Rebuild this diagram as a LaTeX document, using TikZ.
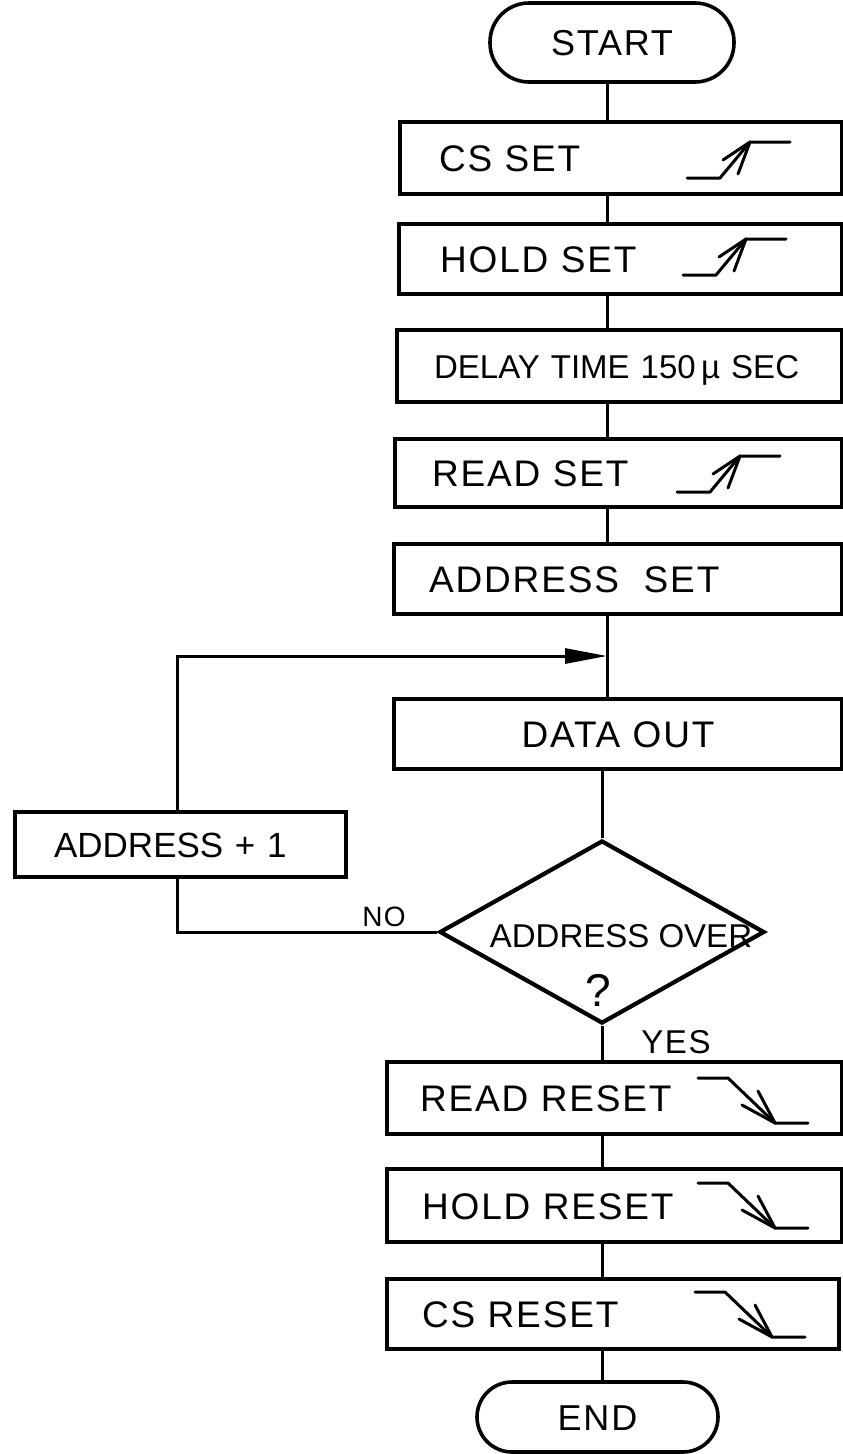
\documentclass[tikz,border=0pt]{standalone}
\usepackage{fontspec}
\setmainfont{Liberation Sans}[LetterSpace=5]
\newfontfamily\plainf{Liberation Sans}
\usetikzlibrary{shapes.geometric,arrows.meta}
\begin{document}
\begin{tikzpicture}[x=1pt,y=-1pt,
  box/.style={draw, line width=4.2pt, anchor=north west, inner ysep=0pt, align=left,
              font=\fontsize{37}{40}\selectfont, text height=27pt, text depth=0pt},
  term/.style={draw, line width=3.6pt, inner sep=0pt, font=\fontsize{36}{40}\selectfont,
              text height=26pt, text depth=0pt},
  conn/.style={line width=3pt},
  sym/.style={line width=3pt, line cap=round, line join=round},
  lbl/.style={inner sep=0pt, text height=20pt, text depth=0pt},
  rise/.pic={\draw[sym] (0,0) -- (33,0) -- (63,-36) -- (103,-36);
             \draw[sym] (63,-36) -- ++(-27,18) (63,-36) -- ++(-12,32);},
  fall/.pic={\draw[sym] (0,0) -- (30,0) -- (77,45) -- (110,45);
             \draw[sym] (77,45) -- ++(-33,-18) (77,45) -- ++(-17,-32);}
]
\useasboundingbox (0,0) rectangle (843,1454);

% terminals
\node[term, minimum width=244pt, minimum height=79pt, rounded corners=39pt] (start) at (612,42.5) {START};
\node[term, minimum width=241pt, minimum height=70pt, rounded corners=35pt] (end) at (597.5,1417) {END};

% process boxes
\node[box, minimum height=72pt, inner xsep=39pt, text width=364pt] (cs) at (398,120) {CS SET};
\node[box, minimum height=70pt, inner xsep=41pt, text width=361pt] (hold) at (397,222) {HOLD SET};
\node[box, minimum height=72pt, inner xsep=37pt, text width=371pt,
      font=\plainf\fontsize{33}{36}\selectfont, text height=24pt] (delay) at (395,328) {DELAY TIME 150\,µ SEC};
\node[box, minimum height=68pt, inner xsep=37pt, text width=373pt] (read) at (393,437) {READ SET};
\node[box, minimum height=70pt, inner xsep=35pt, text width=378pt] (addr) at (392,542) {ADDRESS\ \ SET};
\node[box, minimum height=70pt, inner xsep=10pt, text width=428pt, align=center] (data) at (392,697) {DATA OUT};
\node[box, minimum height=65pt, inner xsep=39pt, text width=253pt,
      font=\plainf\fontsize{35}{38}\selectfont, text height=25pt] (inc) at (13,810) {ADDRESS + 1};
\node[box, minimum height=72pt, inner xsep=33pt, text width=389pt] (rr) at (385,1060) {READ RESET};
\node[box, minimum height=73pt, inner xsep=35pt, text width=385pt] (hr) at (385,1167) {HOLD RESET};
\node[box, minimum height=70pt, inner xsep=35pt, text width=382pt] (csr) at (385,1277) {CS RESET};

% decision
\node[diamond, draw, line width=4.2pt, minimum width=325pt, minimum height=183pt, inner sep=0pt] (dia) at (602,932) {};
\node[lbl, font=\plainf\fontsize{33}{36}\selectfont, text height=23pt] (dtxt) at (621,936) {ADDRESS OVER};
\node[lbl, font=\fontsize{46}{48}\selectfont, text height=33pt] (q) at (598,990) {?};
\node[lbl, font=\fontsize{28}{32}\selectfont] (no) at (384,916) {NO};
\node[lbl, font=\fontsize{33}{36}\selectfont, text height=24pt] (yes) at (676,1041) {YES};

% edge symbols
\pic at (687,178) {rise};
\pic at (683,275) {rise};
\pic at (677,492) {rise};
\pic at (698,1078) {fall};
\pic at (698,1183) {fall};
\pic at (695,1292) {fall};

% connectors
\coordinate (ux) at (607,0);
\coordinate (lp) at (177,0);
\coordinate (join) at (607,656);
\draw[conn] (ux |- start.south) -- (ux |- cs.north);
\draw[conn] (ux |- cs.south) -- (ux |- hold.north);
\draw[conn] (ux |- hold.south) -- (ux |- delay.north);
\draw[conn] (ux |- delay.south) -- (ux |- read.north);
\draw[conn] (ux |- read.south) -- (ux |- addr.north);
\draw[conn] (ux |- addr.south) -- (ux |- data.north);
\draw[conn] (dia.north) -- (dia.north |- data.south);
\draw[conn] (dia.west) -- (lp |- dia.west) -- (lp |- inc.south);
\draw[conn, -{Triangle[length=42pt,width=15pt]}] (lp |- inc.north) |- (join);
\draw[conn] (dia.south) -- (dia.south |- rr.north);
\draw[conn] (dia.south |- rr.south) -- (dia.south |- hr.north);
\draw[conn] (dia.south |- hr.south) -- (dia.south |- csr.north);
\draw[conn] (dia.south |- csr.south) -- (dia.south |- end.north);
\end{tikzpicture}
\end{document}
